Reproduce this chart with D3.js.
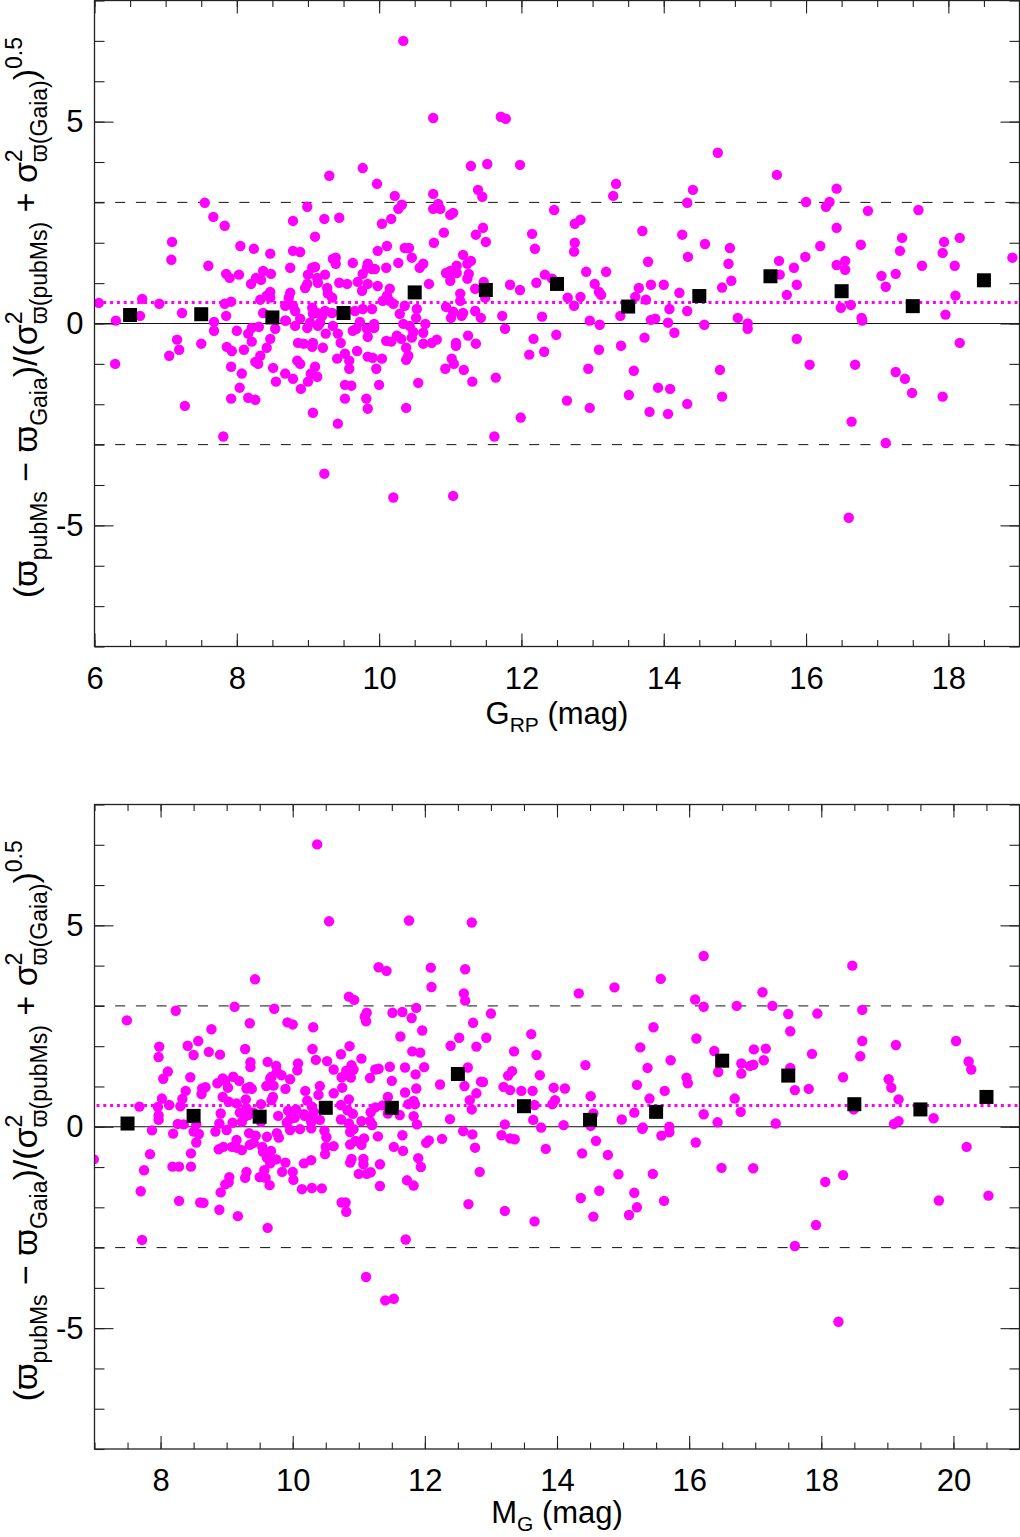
<!DOCTYPE html>
<html>
<head>
<meta charset="utf-8">
<script src="https://cdn.jsdelivr.net/npm/d3@7"></script>
<style>
  html, body { margin: 0; padding: 0; background: #fff; }
  svg { display: block; }
</style>
</head>
<body>
<div id="chart"></div>
<script>
// ---- data ----
const grpDots = [
  [6.06,0.51],[6.30,0.07],[6.67,0.61],[6.64,0.19],[6.91,0.49],[7.09,2.02],[7.08,1.58],[7.23,0.26],[6.29,-1.0],[7.05,-0.80],[7.16,-0.40],[7.19,-0.65],[7.27,-2.04],
  [7.55,2.99],[7.67,2.64],[7.83,2.42],[7.60,1.43],[8.05,1.92],[8.24,1.85],[8.47,1.73],[7.85,1.23],[7.90,1.13],[8.03,1.21],[8.20,0.98],[8.27,1.13],[8.34,1.08],[8.37,1.30],[8.48,1.23],[8.47,0.78],[8.42,0.69],[8.33,0.59],[8.47,0.64],[7.83,0.49],[7.92,0.54],[7.85,0.19],[7.68,0.04],[8.37,0.26],
  [8.75,1.38],[8.79,1.80],[8.89,1.77],[8.79,2.54],[8.99,2.89],[9.30,3.66],[9.10,2.15],[9.23,2.59],[9.44,2.62],[9.77,3.85],[9.97,3.46],[10.22,3.16],[10.27,2.84],[10.32,2.94],[10.17,2.59],[10.04,2.47],[9.98,1.80],[10.11,1.92],[10.36,1.87],[10.42,1.87],[10.27,1.50],[10.46,1.63],[10.57,1.38],[10.62,1.48],[10.76,3.21],[10.83,2.96],[10.76,2.84],[10.86,2.84],[11.0,2.69],[11.04,2.74],[10.77,2.0],[10.91,2.25],[11.18,1.70],[11.29,3.90],[11.52,3.95],[11.39,3.31],[11.45,3.14],[11.46,2.37],[11.36,2.20],[11.50,2.02],[11.09,1.43],[11.24,1.48],[11.29,1.55],[10.94,1.25],[11.0,1.30],[11.09,1.25],[11.0,1.06],[11.26,1.23],[11.24,1.11],[10.70,0.98],[11.35,0.86],[11.14,0.74],[11.14,0.56],[10.94,0.41],[11.04,0.29],[11.01,0.14],[11.18,0.26],[11.35,0.31],[11.43,0.14],[11.49,0.64],
  [9.10,1.40],[9.06,1.38],[9.0,1.21],[8.99,0.98],[8.96,0.88],[9.13,1.13],[9.14,1.01],[9.24,1.21],[9.39,1.63],[9.39,1.48],[9.35,1.60],[9.63,1.50],[9.27,0.88],[9.28,0.74],[9.34,0.64],[9.44,1.01],[9.55,0.98],[9.70,1.03],[9.76,0.81],[9.84,0.98],[9.77,1.23],[9.83,1.38],[9.84,1.48],[9.90,1.35],[9.94,1.35],[9.98,0.93],[10.10,1.38],[10.15,0.86],[10.11,0.69],[10.05,0.56],[10.15,0.56],[10.20,0.49],[10.29,0.24],[10.36,0.44],[10.53,0.36],[10.52,0.14],
  [8.75,0.76],[8.73,0.64],[8.79,0.44],[8.68,0.44],[8.82,0.31],[8.68,0.07],[9.06,0.39],[9.07,0.24],[9.13,0.26],[9.20,0.19],[9.24,0.31],[9.34,0.26],[9.48,0.31],[9.66,0.31],[9.77,0.36],[9.90,0.36],[8.89,0.12],[9.03,0.02],[9.17,0.02],
  [7.50,-0.50],[7.68,-0.18],[7.86,-0.58],[7.93,-0.68],[8.0,-0.18],[7.92,-1.07],[8.07,-1.24],[8.04,-1.59],[7.92,-1.86],[8.16,-1.84],[8.26,-1.89],[7.81,-2.80],[8.10,-0.65],[8.16,-0.25],[8.21,-0.11],[8.21,-0.45],[8.31,-0.08],[8.42,-0.60],[8.47,-0.38],[8.33,-0.80],[8.26,-0.95],[8.30,-1.0],[8.51,-1.10],[8.54,-0.13],[8.55,-1.44],[8.69,0.07],[8.68,-1.24],[8.79,-1.37],[8.90,-1.62],[8.85,-0.92],[8.89,-1.0],[8.86,-0.48],[8.94,-0.50],[9.07,-0.48],[9.06,-0.58],[9.10,-1.07],[9.04,-1.24],[9.13,-1.32],[9.0,-1.44],[9.07,-2.21],[9.21,-0.60],[9.25,-0.25],[8.82,-0.06],[8.99,-0.11],[9.14,-0.06],[9.35,-0.06],[9.42,-0.25],[9.46,-0.48],[9.41,-0.87],[9.52,-0.75],[9.58,-0.92],[9.58,-1.12],[9.69,-0.68],[9.52,-1.52],[9.61,-1.54],[9.52,-1.86],[9.42,-2.48],[9.23,-3.72],[9.63,-0.18],[9.68,-0.13],[9.73,0.04],[9.83,-0.13],[9.84,-0.33],[9.93,-0.11],[9.93,-0.01],[9.84,-0.82],[9.91,-0.85],[10.04,-0.87],[9.96,-1.12],[10.0,-1.52],[9.82,-1.86],[9.84,-2.11],[10.10,-0.43],[10.17,-0.45],[10.25,-0.30],[10.31,-0.38],[10.34,-0.01],[10.43,-0.06],[10.48,-0.21],[10.46,-0.35],[10.38,-0.60],[10.41,-0.80],[10.38,-0.90],[10.55,-1.47],[10.38,-2.09],[10.20,-4.31],[10.62,-0.23],[10.65,-0.01],[10.62,-0.50],[10.74,-0.48],[10.81,-0.40],[11.08,-0.48],[11.08,-0.55],[11.02,-0.87],[11.05,-1.0],[10.93,-1.12],[11.19,-1.15],[11.25,-0.30],[11.36,-0.50],[11.31,-1.44],[11.04,-4.27],[11.16,0.19],
  [11.71,5.12],[11.78,5.07],[10.76,5.09],[10.34,7.0],[11.98,3.93],[12.46,2.81],[12.15,2.22],[12.19,1.85],[12.75,2.47],[12.83,2.57],[12.75,2.0],[12.74,1.78],[13.29,3.16],[13.33,3.46],[13.70,2.29],[13.78,1.53],[14.26,2.20],[14.33,2.99],[14.41,3.31],[14.34,1.65],[14.58,1.97],[14.76,4.23],[14.93,1.87],[14.91,1.48],[14.95,1.06],[14.82,0.89],[15.59,3.68],[15.62,1.55],[15.63,1.21],[15.83,1.38],[15.99,1.65],[16.0,3.01],[15.87,0.96],[15.73,0.71],[16.20,1.92],[16.28,2.89],[16.33,3.01],[16.43,3.34],[16.43,2.37],[16.55,1.55],[16.43,1.45],[16.55,1.33],[16.49,0.39],[16.63,0.46],[16.77,1.95],[16.87,2.79],[16.78,0.14],[16.79,0.07],[17.06,1.18],[17.12,0.91],[17.26,1.23],[17.35,2.12],[17.32,1.80],[17.58,2.81],[17.63,1.43],[17.94,2.02],[17.92,1.75],[18.16,2.12],[18.09,1.43],[18.10,0.69],[17.96,0.22],[18.90,1.63],
  [11.84,0.96],[11.98,0.83],[11.73,0.19],[11.47,1.03],[12.21,1.01],[12.33,1.21],[12.43,1.11],[12.29,0.17],[12.65,0.64],[12.74,0.44],[12.83,0.66],[12.91,1.28],[13.03,0.98],[13.09,0.78],[13.12,0.71],[13.19,1.28],[12.96,0.07],[13.10,-0.03],[13.39,0.19],[13.65,0.88],[13.60,0.66],[13.75,0.59],[13.82,0.96],[14.0,0.96],[13.82,0.09],[13.88,0.12],[14.06,0.02],[14.08,0.36],[14.22,0.76],[14.33,0.31],[14.57,-0.03],[15.04,0.14],[15.18,0.0],[15.18,-0.13],[11.77,-0.13],
  [11.64,-1.34],[11.62,-2.80],[11.99,-2.33],[12.11,-0.77],[12.17,-0.38],[12.32,-0.70],[12.49,-0.28],[12.64,-1.91],[12.94,-1.12],[12.96,-2.09],[13.09,-0.65],[13.40,-0.55],[13.58,-1.17],[13.51,-1.77],[13.73,-0.35],[13.92,-1.59],[14.09,-1.62],[13.80,-2.19],[14.06,-2.24],[14.15,-0.23],[14.33,-1.99],[14.79,-1.15],[14.82,-1.81],[15.87,-0.38],[16.05,-1.02],[16.69,-1.02],[16.64,-2.43],[16.60,-4.81],[17.12,-2.96],[17.26,-1.20],[17.39,-1.37],[17.49,-1.72],[17.92,-1.81],[18.16,-0.48]
];
const grpBinMag = [6.5, 7.5, 8.5, 9.5, 10.5, 11.5, 12.5, 13.5, 14.5, 15.5, 16.5, 17.5, 18.5];
const grpBinMean = [0.21, 0.23, 0.15, 0.26, 0.77, 0.83, 0.98, 0.42, 0.68, 1.17, 0.80, 0.43, 1.07];
const grpOffset = 0.52;
const grpTickLabels = [6, 8, 10, 12, 14, 16, 18];

const mgDots = [
  [10.37,7.01],[10.55,5.10],[11.76,5.12],[12.71,5.07],[9.43,3.66],[11.30,3.96],[11.42,3.87],[12.09,3.95],[12.10,3.47],[12.61,3.91],[12.59,3.31],[12.61,3.13],
  [7.49,2.64],[8.23,2.88],[9.12,2.98],[9.72,2.93],[9.35,2.57],[9.92,2.59],[10.0,2.54],[10.31,2.47],[8.77,2.42],[10.85,3.23],[10.93,3.15],[11.12,2.83],[11.09,2.73],[11.11,2.62],[11.51,2.83],[11.66,2.85],[11.80,2.70],[11.87,2.95],[11.96,2.39],[11.63,2.24],[12.73,2.58],[12.52,2.21],[12.39,2.01],[12.78,1.99],
  [7.98,1.99],[7.97,1.73],[8.11,1.37],[8.04,1.19],[8.41,2.01],[8.57,2.13],[8.50,1.78],[8.73,1.86],[8.90,1.79],[9.28,1.93],[9.36,1.60],[9.36,1.48],[9.62,1.61],[10.30,1.93],[10.35,1.66],[10.52,1.63],[10.08,1.57],[10.07,1.40],[9.75,1.51],[9.76,1.36],[9.83,1.28],[9.68,1.24],[9.96,1.18],[10.62,1.42],[10.73,1.80],[10.86,2.0],[10.89,1.53],[10.92,1.42],[10.81,1.39],[10.88,1.22],[10.74,1.23],[11.04,1.69],[11.17,1.21],[11.25,1.42],[11.30,1.44],[11.47,1.49],[11.50,1.14],[11.70,1.47],[11.86,1.30],[11.81,1.87],[11.93,1.84],[11.99,1.48],[11.87,0.95],[11.70,0.85],[12.23,1.05],[12.60,1.01],[12.65,1.47],[12.78,0.83],[12.68,0.66],[12.71,0.43],[12.38,0.19],[12.85,1.12],
  [7.68,0.50],[8.02,0.70],[8.13,0.54],[7.96,0.49],[7.97,0.28],[7.97,0.17],[8.38,0.89],[8.33,0.69],[8.30,0.51],[8.45,1.23],[8.63,0.95],[8.68,0.98],[8.62,0.81],[8.86,1.08],[8.94,1.20],[8.98,1.14],[9.02,0.97],[9.10,1.24],[9.19,1.14],[8.94,0.74],[9.03,0.62],[9.15,0.58],[8.91,0.33],[9.20,0.35],[9.29,0.68],[9.30,0.95],[9.35,0.99],[9.38,0.94],[9.60,1.01],[9.71,1.02],[9.66,1.20],[9.70,0.74],[9.68,0.66],[9.89,0.94],[9.52,0.56],[9.30,0.46],[9.27,0.25],[9.23,0.12],[9.33,0.29],[9.40,0.35],[9.78,0.27],[9.93,0.40],[9.96,0.19],[10.05,0.43],[10.03,0.22],[10.17,0.31],[10.22,0.65],[10.19,0.89],[10.41,1.01],[10.39,0.79],[10.29,0.50],[10.32,0.37],[10.27,0.21],[10.41,0.17],[10.62,0.83],[10.75,0.97],[10.85,0.68],[10.73,0.54],[10.83,0.41],[10.91,0.32],[10.73,0.18],[10.85,0.08],[11.04,0.14],[11.18,0.36],[11.25,0.48],[11.17,0.14],[11.20,0.06],[11.36,0.53],[11.44,0.74],[11.44,0.33],[11.62,0.29],[11.75,0.56],[11.83,0.64],[11.85,0.56],[11.83,0.26],[11.88,0.06],[8.26,0.07],[8.54,0.06],[8.89,0.08],[9.09,0.10],[9.52,0.12],[9.91,0.10],
  [6.99,-0.81],[7.87,-0.09],[7.84,-0.68],[7.75,-1.08],[7.70,-1.60],[7.72,-2.81],[8.19,-0.17],[8.18,-0.99],[8.28,-0.99],[8.28,-1.84],[8.46,-0.66],[8.46,-0.99],[8.54,-0.39],[8.50,-0.12],[8.58,-0.18],[8.60,-1.88],[8.65,-1.89],[8.83,-0.12],[8.88,-0.56],[8.95,-0.50],[8.91,-1.63],[8.98,-1.43],[9.03,-1.38],[9.04,-1.25],[8.89,-2.06],[9.0,-0.08],[9.08,-0.50],[9.15,-0.33],[9.15,-0.52],[9.23,-0.58],[9.17,-2.22],[9.28,-1.27],[9.30,-1.12],[9.35,-0.45],[9.41,-0.40],[9.44,-0.22],[9.34,-0.16],[9.54,-0.50],[9.55,-0.62],[9.67,-0.60],[9.61,-0.77],[9.61,-0.25],[9.76,-0.16],[9.79,-0.27],[9.66,-0.91],[9.57,-1.08],[9.50,-1.25],[9.59,-1.27],[9.65,-1.45],[9.62,-2.51],[9.75,-0.81],[9.89,-0.89],[9.84,-1.12],[10.0,-1.12],[10.01,-1.32],[10.14,-1.55],[10.29,-1.52],[10.44,-1.53],[10.17,-0.91],[10.28,-0.83],[9.96,-0.08],[10.11,-0.06],[10.28,-0.04],[10.48,-0.10],[10.51,-0.26],[10.50,-0.50],[10.49,-0.68],[10.62,-0.48],[10.87,-0.13],[10.92,-0.06],[10.95,-0.35],[10.87,-0.44],[11.08,-0.29],[11.04,-0.45],[10.89,-0.80],[10.87,-0.89],[11.07,-0.80],[11.07,-0.93],[11.0,-1.17],[11.12,-1.17],[11.18,-1.13],[10.74,-1.88],[10.80,-1.88],[10.81,-2.11],[11.32,-0.93],[11.32,-1.47],[11.29,-0.24],[11.20,0.04],[11.66,-0.21],[11.53,-0.50],[11.67,-0.60],[11.90,-0.78],[11.94,-1.0],[11.73,-1.33],[11.83,-1.46],[12.02,-0.40],[12.06,-0.34],[12.26,-0.30],[12.58,-0.11],[12.72,-0.19],[12.76,-0.52],[12.66,-1.92],[12.83,-1.12],[11.71,-2.80],[11.11,-3.73],[11.40,-4.31],[11.53,-4.27],[8.35,0.06],[10.18,0.27],[10.28,0.12],
  [13.0,2.81],[12.93,2.21],[13.35,1.87],[13.61,2.30],[13.69,1.78],[13.32,1.38],[13.26,1.27],[12.88,1.11],[13.19,0.99],[13.29,0.91],[13.46,0.89],[13.63,0.89],[13.74,1.28],[13.66,0.54],[13.95,0.97],[14.12,0.95],[13.97,0.66],[13.93,0.56],[13.64,0.17],[13.21,0.06],[13.76,-0.02],[14.10,0.04],[14.33,3.31],[14.43,1.53],[14.51,0.76],[14.55,0.33],[14.87,3.46],[14.98,0.18],[15.17,0.35],[15.26,1.97],[15.37,1.46],[15.21,1.04],[15.46,2.47],[15.57,3.67],[15.40,0.70],[15.63,0.89],[15.72,1.65],[15.30,-0.02],[15.70,0.0],[16.09,3.16],[16.22,2.98],[16.22,4.24],[16.11,2.19],[15.96,1.22],[15.98,1.08],[16.38,1.88],[16.44,1.36],[16.22,0.31],[16.43,0.11],[16.72,3.0],[16.79,1.57],[16.79,1.32],[16.92,1.51],[16.97,1.54],[16.98,1.92],[17.16,1.94],[17.13,1.65],[17.11,3.34],[17.26,3.0],[16.69,0.70],[16.78,0.37],[17.31,0.08],[17.50,2.80],[17.53,2.37],[17.53,1.46],[17.60,0.91],[17.94,2.81],[17.86,1.81],[17.81,0.94],[18.47,4.0],[18.62,2.90],[18.62,2.13],[18.59,1.75],[18.33,1.23],[18.49,0.43],[19.13,2.03],[19.02,1.18],[19.06,0.97],[19.17,0.68],[19.10,0.07],[19.17,0.14],[19.70,0.21],[20.04,2.13],[20.23,1.62],[20.27,1.42],
  [13.16,-0.21],[13.29,-0.29],[13.36,-0.31],[13.21,-2.09],[13.66,-2.35],[13.83,-0.55],[14.38,-0.66],[14.36,-1.77],[14.59,-0.35],[14.51,0.02],[14.55,-2.23],[14.64,-1.59],[14.77,-0.70],[14.93,-1.18],[15.17,-1.64],[15.21,-2.0],[15.09,-2.19],[15.29,-0.05],[15.45,-1.17],[15.62,-1.84],[15.58,-0.22],[15.70,-0.14],[16.10,-0.39],[16.49,-1.02],[16.97,-1.03],[17.60,-2.96],[17.92,-2.44],[18.06,-1.37],[18.33,-1.20],[18.26,-4.84],[19.78,-1.83],[20.20,-0.50],[20.53,-1.71]
];
const mgBinMag = [7.5, 8.5, 9.5, 10.5, 11.5, 12.5, 13.5, 14.5, 15.5, 16.5, 17.5, 18.5, 19.5, 20.5];
const mgBinMean = [0.08, 0.27, 0.25, 0.47, 0.47, 1.31, 0.51, 0.17, 0.37, 1.64, 1.27, 0.56, 0.43, 0.74];
const mgOffset = 0.53;
const mgTickLabels = [8, 10, 12, 14, 16, 18, 20];

const yTickLabels = [-5, 0, 5];
const sigmaLimits = [-3, 3];

// ---- layout ----
const width = 1020;
const height = 1537;
const FONT = "'Liberation Sans', Arial, Helvetica, sans-serif";
const MAGENTA = "#ff00ff";

const svg = d3.select("#chart")
    .append("svg")
    .attr("width", width)
    .attr("height", height)
    .style("font-family", FONT);

// writes a text made of normal / sub / sup runs
function richText(sel, parts, size, small, subDy, supDy) {
    let shift = 0;
    parts.forEach(p => {
        const target = p.k === "sub" ? subDy : p.k === "sup" ? supDy : 0;
        sel.append("tspan")
            .attr("dy", target - shift)
            .attr("dx", p.dx || 0)
            .style("font-size", (p.k ? small : size) + "px")
            .text(p.t);
        shift = target;
    });
}

function drawPanel(cfg) {
    const x = d3.scaleLinear().domain(cfg.xDomain).range([94.5, 1019.5]);
    const y = d3.scaleLinear().domain([-8, 8]).range(cfg.yRange);
    const [x0, x1] = x.range();
    const [yb, yt] = y.range();
    const g = svg.append("g");

    const clipId = "clip" + cfg.id;
    g.append("clipPath").attr("id", clipId)
        .append("rect")
        .attr("x", x0).attr("y", yt)
        .attr("width", x1 - x0).attr("height", yb - yt);

    // reference lines
    g.append("line")
        .attr("x1", x0).attr("x2", x1)
        .attr("y1", y(0)).attr("y2", y(0))
        .attr("stroke", "#111").attr("stroke-width", 1);
    g.selectAll(".sig")
        .data(sigmaLimits)
        .enter().append("line")
        .attr("x1", x0).attr("x2", x1)
        .attr("y1", d => y(d)).attr("y2", d => y(d))
        .attr("stroke", "#111").attr("stroke-width", 1)
        .attr("stroke-dasharray", "10,10.7");
    g.append("line")
        .attr("x1", x0 + 2).attr("x2", x1)
        .attr("y1", y(cfg.offset)).attr("y2", y(cfg.offset))
        .attr("stroke", MAGENTA).attr("stroke-width", 3)
        .attr("stroke-dasharray", "3,3.8");

    // stars
    g.append("g").attr("clip-path", `url(#${clipId})`)
        .selectAll("circle")
        .data(cfg.dots)
        .enter().append("circle")
        .attr("cx", d => x(d[0]))
        .attr("cy", d => y(d[1]))
        .attr("r", 5.2)
        .attr("fill", MAGENTA);

    // binned means
    const s = 14;
    g.selectAll(".bin")
        .data(cfg.binMag)
        .enter().append("rect")
        .attr("x", d => x(d) - s / 2)
        .attr("y", (d, i) => y(cfg.binMean[i]) - s / 2)
        .attr("width", s).attr("height", s)
        .attr("fill", "#000");

    // axes: ticks point inward on all four sides
    const minorX = d3.range(cfg.xDomain[0], cfg.xDomain[1] + 0.01, 0.5);
    const minorY = d3.range(-8, 8.01, 1);
    const plain = d => String(d);
    const tickStyle = a => a.call(s => s.select(".domain").remove())
        .call(s => s.selectAll("line").attr("stroke", "#222").attr("stroke-width", 1.1))
        .call(s => s.selectAll("text").attr("fill", "#000").style("font-size", "31px").style("font-family", FONT));

    g.append("g").attr("transform", `translate(0,${yb})`)
        .call(d3.axisBottom(x).tickValues(minorX).tickSize(-6.5).tickFormat("")).call(tickStyle);
    g.append("g").attr("transform", `translate(0,${yb})`)
        .call(d3.axisBottom(x).tickValues(cfg.xLabels).tickSize(-13).tickPadding(20).tickFormat(plain)).call(tickStyle);
    g.append("g").attr("transform", `translate(0,${yt})`)
        .call(d3.axisTop(x).tickValues(minorX).tickSize(-6.5).tickFormat("")).call(tickStyle);
    g.append("g").attr("transform", `translate(0,${yt})`)
        .call(d3.axisTop(x).tickValues(cfg.xLabels).tickSize(-13).tickFormat("")).call(tickStyle);

    g.append("g").attr("transform", `translate(${x0},0)`)
        .call(d3.axisLeft(y).tickValues(minorY).tickSize(-10).tickFormat("")).call(tickStyle);
    g.append("g").attr("transform", `translate(${x0},0)`)
        .call(d3.axisLeft(y).tickValues(yTickLabels).tickSize(-19).tickPadding(11).tickFormat(plain)).call(tickStyle);
    g.append("g").attr("transform", `translate(${x1},0)`)
        .call(d3.axisRight(y).tickValues(minorY).tickSize(-10).tickFormat("")).call(tickStyle);
    g.append("g").attr("transform", `translate(${x1},0)`)
        .call(d3.axisRight(y).tickValues(yTickLabels).tickSize(-19).tickFormat("")).call(tickStyle);

    // frame
    g.append("rect")
        .attr("x", x0).attr("y", yt)
        .attr("width", x1 - x0).attr("height", yb - yt)
        .attr("fill", "none").attr("stroke", "#222").attr("stroke-width", 1.3);

    // x title
    const xt = g.append("text")
        .attr("x", (x0 + x1) / 2)
        .attr("y", yb + cfg.titleGap)
        .attr("text-anchor", "middle")
        .attr("fill", "#000");
    richText(xt, cfg.xTitle, 31, 21, 8, -13);

    // y title
    const ytl = g.append("text")
        .attr("transform", `translate(37,${y(0) - 6}) rotate(-90)`)
        .attr("text-anchor", "middle")
        .attr("fill", "#000");
    richText(ytl, [
        { t: "(ϖ" },
        { t: "pubMs", k: "sub" },
        { t: " − ϖ" },
        { t: "Gaia", k: "sub" },
        { t: ")/(σ" },
        { t: "2", k: "sup" },
        { t: "ϖ(pubMs)", k: "sub", dx: -12.8 },
        { t: " + σ" },
        { t: "2", k: "sup" },
        { t: "ϖ(Gaia)", k: "sub", dx: -12.8 },
        { t: ")" },
        { t: "0.5", k: "sup" }
    ], 34, 23, 10, -15);
}

drawPanel({
    id: "grp",
    xDomain: [6, 19],
    yRange: [646.5, 0.5],
    dots: grpDots,
    binMag: grpBinMag,
    binMean: grpBinMean,
    offset: grpOffset,
    xLabels: grpTickLabels,
    titleGap: 77,
    xTitle: [{ t: "G" }, { t: "RP", k: "sub" }, { t: " (mag)" }]
});

drawPanel({
    id: "mg",
    xDomain: [7, 21],
    yRange: [1449, 804.5],
    dots: mgDots,
    binMag: mgBinMag,
    binMean: mgBinMean,
    offset: mgOffset,
    xLabels: mgTickLabels,
    titleGap: 74,
    xTitle: [{ t: "M" }, { t: "G", k: "sub" }, { t: " (mag)" }]
});
</script>
</body>
</html>
